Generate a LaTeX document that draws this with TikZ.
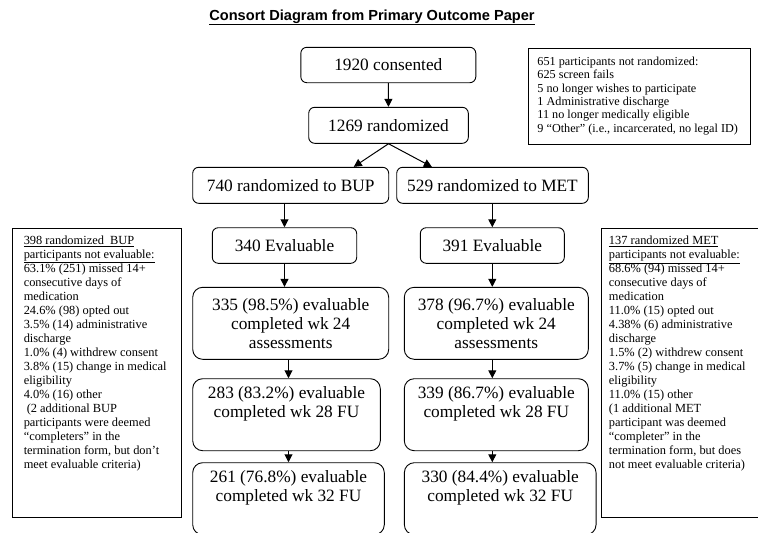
\documentclass[tikz,border=0pt]{standalone}
\usepackage{fontspec}
\setmainfont{Liberation Serif}
\newfontfamily\headfont{Liberation Sans}
\usetikzlibrary{arrows.meta}
\newcommand\tightlines{\lineskiplimit-20pt\relax}

\begin{document}
\begin{tikzpicture}[x=1pt, y=-1pt,
  flow/.style={draw, rounded corners=6pt, line width=0.9pt, inner sep=0pt, align=center,
    font=\fontsize{17.3}{19}\selectfont},
  tallflow/.style={flow, rounded corners=10pt, minimum height=72pt},
  infobox/.style={draw, line width=0.9pt, anchor=north west,
    font=\fontsize{12.4}{14}\selectfont\tightlines},
  arr/.style={-{Triangle[width=8pt,length=8pt]}, line width=1pt}]
  \useasboundingbox (0,0) rectangle (758,533);
  % title
  \node[anchor=base] (title) at (372,20) {\headfont\bfseries\fontsize{14.6}{16}\selectfont\underline{Consort Diagram from Primary Outcome Paper}};
  % enrolment
  \node[flow, minimum width=175pt, minimum height=35.4pt] (cons) at (388.3,65) {1920 consented};
  \node[flow, minimum width=159.6pt, minimum height=36pt] (rand) at (388.5,125.3) {1269 randomized};
  \node[infobox, font=\fontsize{12.2}{13.3}\selectfont\tightlines, inner xsep=8.7pt, inner ysep=8.4pt] (notrand) at (528.3,48.3)
    {\parbox[t][79.2pt][t]{204.3pt}{\raggedright
      651 participants not randomized:\\
      625 screen fails\\
      5 no longer wishes to participate\\
      1 Administrative discharge\\
      11 no longer medically eligible\\
      9 “Other” (i.e., incarcerated, no legal ID)}};
  % arms
  \node[flow, minimum width=196pt, minimum height=36pt] (bup) at (290.7,185.3) {740 randomized to BUP};
  \node[flow, minimum width=191.6pt, minimum height=36pt] (met) at (492.5,185.3) {529 randomized to MET};
  \node[flow, minimum width=144.4pt, minimum height=35.6pt] (evb) at (284.5,245.5) {340 Evaluable};
  \node[flow, minimum width=144pt, minimum height=35.6pt] (evm) at (492.3,245.5) {391 Evaluable};
  % follow-up
  \node[tallflow, minimum width=196pt] (b24) at (290.7,323.3) {335 (98.5\%) evaluable\\completed wk 24\\assessments};
  \node[tallflow, minimum width=184pt] (m24) at (496.3,323.3) {378 (96.7\%) evaluable\\completed wk 24\\assessments};
  \node[tallflow, minimum width=187.6pt] (b28) at (286.5,414.7) {283 (83.2\%) evaluable\\completed wk 28 FU\\\strut};
  \node[tallflow, minimum width=184pt] (m28) at (496.3,414.7) {339 (86.7\%) evaluable\\completed wk 28 FU\\\strut};
  \node[tallflow, minimum width=191.6pt] (b32) at (288.5,498.7) {261 (76.8\%) evaluable\\completed wk 32 FU\\\strut};
  \node[tallflow, minimum width=191.7pt] (m32) at (500.2,498.7) {330 (84.4\%) evaluable\\completed wk 32 FU\\\strut};
  % not evaluable
  \node[infobox, inner xsep=11pt, inner ysep=7.8pt] (bupout) at (12.3,227.5)
    {\parbox[t][273.6pt][t]{146.7pt}{\raggedright
      \underline{398 randomized\ \ BUP}\\
      \underline{participants not evaluable:}\\
      63.1\% (251) missed 14+\\
      consecutive days of\\
      medication\\
      24.6\% (98) opted out\\
      3.5\% (14) administrative\\
      discharge\\
      1.0\% (4) withdrew consent\\
      3.8\% (15) change in medical\\
      eligibility\\
      4.0\% (16) other\\
      \hspace*{3pt}(2 additional BUP\\
      participants were deemed\\
      “completers” in the\\
      termination form, but don’t\\
      meet evaluable criteria)}};
  \node[infobox, inner xsep=8pt, inner ysep=7.8pt] (metout) at (600.5,228)
    {\parbox[t][273.1pt][t]{141pt}{\raggedright
      \underline{137 randomized MET}\\
      \underline{participants not evaluable:}\\
      68.6\% (94) missed 14+\\
      consecutive days of\\
      medication\\
      11.0\% (15) opted out\\
      4.38\% (6) administrative\\
      discharge\\
      1.5\% (2) withdrew consent\\
      3.7\% (5) change in medical\\
      eligibility\\
      11.0\% (15) other\\
      (1 additional MET\\
      participant was deemed\\
      “completer” in the\\
      termination form, but does\\
      not meet evaluable criteria)}};
  % arrows
  \draw[arr] (cons) -- (rand);
  \draw[arr] (rand.south) -- ([xshift=-35.4pt]bup.north east);
  \draw[arr] (rand.south) -- ([xshift=35.6pt]met.north west);
  \draw[arr] (bup.south -| evb.north) -- (evb.north);
  \draw[arr] (evb.south) -- (evb.south |- b24.north);
  \draw[arr] (b24.south -| b32.north) -- (b28.north -| b32.north);
  \draw[arr] (b28.south -| b32.north) -- (b32.north);
  \draw[arr] (met.south -| evm.north) -- (evm.north);
  \draw[arr] (evm.south) -- (evm.south |- m24.north);
  \draw[arr] (m24.south -| evm.south) -- (m28.north -| evm.south);
  \draw[arr] (m28.south -| evm.south) -- (m32.north -| evm.south);
\end{tikzpicture}
\end{document}
